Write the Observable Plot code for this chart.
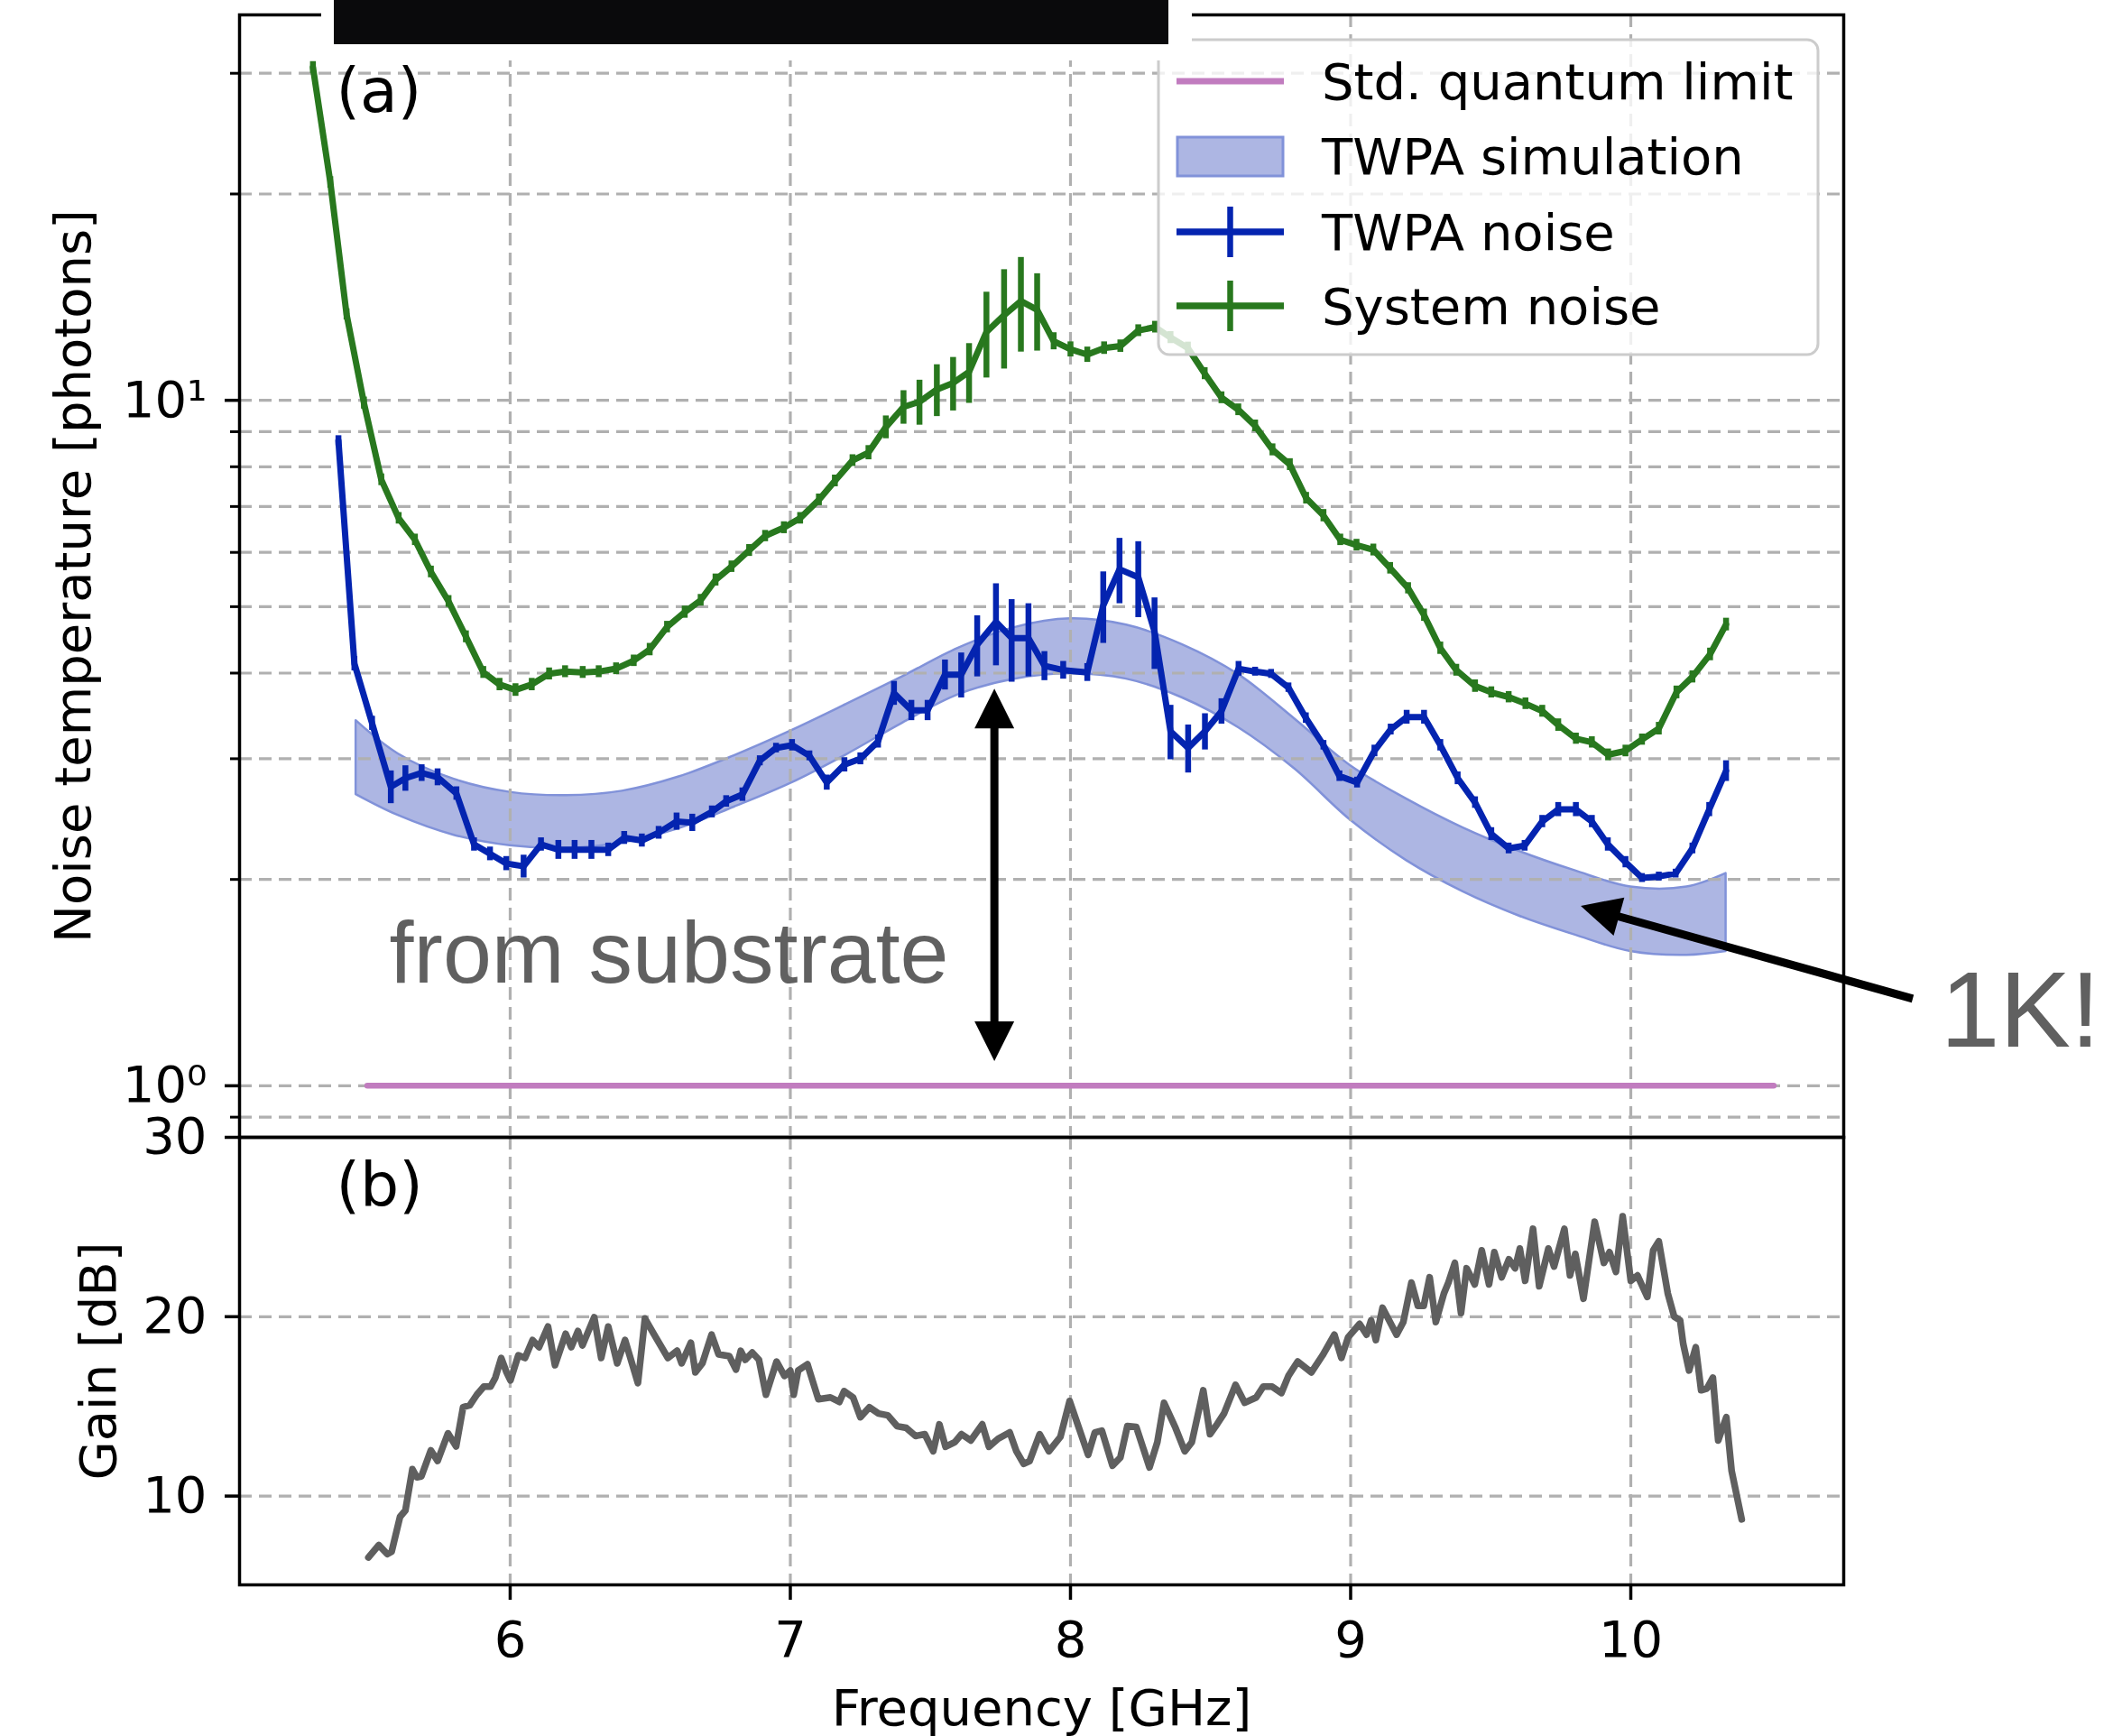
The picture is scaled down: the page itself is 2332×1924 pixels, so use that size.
<!DOCTYPE html>
<html><head><meta charset="utf-8">
<script src="https://cdn.jsdelivr.net/npm/d3@7"></script>
<script src="https://cdn.jsdelivr.net/npm/@observablehq/plot@0.6"></script>
<style>
html,body{margin:0;padding:0;background:#fff;}
#wrap{position:relative;width:2332px;height:1924px;overflow:hidden;background:#fff;}
#pa,#pb{position:absolute;left:0;width:2332px;}
#ov{position:absolute;left:0;top:0;}
</style></head><body>
<div id="wrap"><div id="pb" style="top:1200px"></div><div id="pa" style="top:0"></div><svg id="ov" width="2332" height="1924"></svg></div>
<script>
// ---------- axes / ticks ----------
const xDomain = [5.034, 10.76];
const noiseYDomain = [0.841, 36.5];
const gainYDomain = [5.05, 30];
const freqTicks = [6, 7, 8, 9, 10];
const noiseMajorTicks = [1, 10];
const noiseMajorLabels = ["10⁰", "10¹"];
const noiseMinorTicks = [0.9, 2, 3, 4, 5, 6, 7, 8, 9, 20, 30];
const gainTicks = [10, 20, 30];

// ---------- labels ----------
const xLabel = "Frequency [GHz]";
const yLabelA = "Noise temperature [photons]";
const yLabelB = "Gain [dB]";
const panelLabels = ["(a)", "(b)"];
const legendLabels = ["Std. quantum limit", "TWPA simulation", "TWPA noise", "System noise"];

// ---------- Std. quantum limit ----------
const sqlFreq = [5.49, 10.51];
const sqlValue = [1, 1];

// ---------- TWPA simulation band ----------
const simFreq = [5.45, 5.6, 5.8, 6.0, 6.2, 6.4, 6.6, 6.8, 7.0, 7.2, 7.4, 7.6, 7.8, 8.0, 8.2, 8.4, 8.6, 8.8, 9.0, 9.2, 9.4, 9.6, 9.8, 10.0, 10.2, 10.34];
const simHigh = [3.41, 3.05, 2.80, 2.68, 2.65, 2.69, 2.82, 3.03, 3.29, 3.60, 3.95, 4.35, 4.66, 4.80, 4.70, 4.40, 3.98, 3.43, 2.93, 2.62, 2.38, 2.20, 2.06, 1.95, 1.95, 2.04];
const simLow  = [2.66, 2.48, 2.32, 2.24, 2.22, 2.26, 2.37, 2.55, 2.76, 3.04, 3.38, 3.72, 3.92, 3.99, 3.92, 3.68, 3.33, 2.90, 2.44, 2.13, 1.92, 1.77, 1.66, 1.57, 1.55, 1.57];

// ---------- TWPA noise ----------
const twpaFreq = [5.387,5.444,5.507,5.574,5.626,5.684,5.741,5.808,5.871,5.928,5.986,6.048,6.11,6.172,6.23,6.29,6.35,6.407,6.47,6.53,6.594,6.65,6.72,6.771,6.829,6.891,6.949,7.006,7.068,7.13,7.193,7.25,7.313,7.37,7.432,7.49,7.552,7.61,7.667,7.734,7.79,7.85,7.907,7.974,8.06,8.117,8.175,8.242,8.30,8.357,8.42,8.48,8.539,8.60,8.659,8.716,8.778,8.84,8.903,8.96,9.023,9.085,9.143,9.2,9.262,9.32,9.382,9.444,9.502,9.564,9.621,9.684,9.741,9.804,9.861,9.918,9.981,10.04,10.10,10.16,10.22,10.28,10.34];
const twpaNoise = [8.73,4.13,3.38,2.73,2.81,2.86,2.82,2.67,2.25,2.18,2.11,2.09,2.25,2.21,2.21,2.21,2.21,2.30,2.28,2.34,2.43,2.42,2.51,2.60,2.66,2.98,3.11,3.14,3.03,2.77,2.94,3.00,3.18,3.74,3.53,3.53,3.98,3.98,4.40,4.75,4.50,4.50,4.10,4.04,4.01,5.02,5.67,5.52,4.60,3.29,3.11,3.29,3.52,4.06,4.02,3.99,3.81,3.44,3.14,2.83,2.77,3.08,3.31,3.45,3.45,3.14,2.81,2.59,2.33,2.22,2.24,2.43,2.53,2.53,2.43,2.25,2.12,2.01,2.02,2.04,2.22,2.53,2.88];
const twpaErr = [0.15,0.1,0.08,0.15,0.12,0.08,0.08,0.06,0.05,0.05,0.05,0.08,0.05,0.07,0.07,0.07,0.05,0.05,0.05,0.05,0.07,0.07,0.05,0.05,0.06,0.05,0.05,0.06,0.05,0.07,0.07,0.06,0.07,0.15,0.12,0.12,0.2,0.3,0.45,0.65,0.62,0.55,0.2,0.12,0.12,0.6,0.62,0.7,0.55,0.3,0.25,0.2,0.15,0.1,0.06,0.06,0.06,0.06,0.05,0.05,0.05,0.06,0.06,0.08,0.08,0.06,0.06,0.05,0.05,0.04,0.04,0.05,0.06,0.06,0.05,0.05,0.04,0.03,0.03,0.03,0.04,0.06,0.1];

// ---------- System noise ----------
const sysFreq = [5.296,5.358,5.416,5.478,5.540,5.602,5.660,5.717,5.780,5.842,5.904,5.962,6.019,6.077,6.139,6.196,6.259,6.316,6.378,6.441,6.498,6.560,6.623,6.680,6.733,6.79,6.853,6.91,6.977,7.035,7.102,7.159,7.222,7.279,7.341,7.404,7.461,7.523,7.581,7.638,7.70,7.763,7.823,7.881,7.940,8.0,8.06,8.12,8.178,8.242,8.302,8.357,8.419,8.479,8.539,8.599,8.659,8.721,8.783,8.841,8.903,8.963,9.021,9.081,9.141,9.205,9.262,9.32,9.377,9.444,9.502,9.564,9.624,9.684,9.741,9.804,9.861,9.919,9.981,10.04,10.10,10.163,10.22,10.283,10.34];
const sysNoise = [30.6,20.8,13.35,9.91,7.66,6.73,6.26,5.62,5.09,4.52,4.01,3.85,3.78,3.85,3.99,4.02,4.01,4.02,4.06,4.17,4.33,4.67,4.91,5.11,5.47,5.72,6.04,6.34,6.52,6.73,7.16,7.63,8.17,8.39,9.14,9.78,9.95,10.37,10.6,11.0,12.58,13.31,13.96,13.55,12.2,11.87,11.66,11.92,12.0,12.64,12.79,12.35,11.92,10.94,10.09,9.69,9.18,8.47,8.06,7.20,6.79,6.26,6.15,6.05,5.69,5.32,4.86,4.35,4.04,3.83,3.75,3.69,3.61,3.52,3.36,3.21,3.17,3.04,3.08,3.20,3.32,3.75,3.95,4.26,4.71];
const sysErr = [0.6,0.4,0.25,0.2,0.15,0.13,0.12,0.11,0.1,0.09,0.08,0.08,0.08,0.08,0.08,0.08,0.08,0.08,0.08,0.08,0.09,0.09,0.1,0.1,0.11,0.11,0.12,0.12,0.13,0.13,0.14,0.15,0.16,0.2,0.35,0.55,0.75,0.9,0.95,1.1,1.8,2.2,2.2,1.75,0.35,0.3,0.3,0.25,0.25,0.25,0.25,0.25,0.24,0.22,0.2,0.19,0.18,0.17,0.16,0.14,0.14,0.12,0.12,0.12,0.11,0.1,0.1,0.09,0.08,0.08,0.07,0.07,0.07,0.07,0.07,0.06,0.06,0.06,0.06,0.06,0.07,0.08,0.08,0.09,0.1];

// ---------- Gain ----------
const gainFreq = [5.494,5.531,5.561,5.577,5.607,5.626,5.651,5.667,5.683,5.717,5.741,5.778,5.807,5.832,5.856,5.881,5.906,5.93,5.947,5.968,5.987,6.001,6.029,6.053,6.08,6.103,6.135,6.16,6.198,6.218,6.242,6.258,6.30,6.325,6.35,6.382,6.41,6.456,6.481,6.514,6.563,6.596,6.612,6.645,6.661,6.686,6.719,6.744,6.782,6.806,6.823,6.839,6.864,6.888,6.913,6.951,6.979,7.0,7.012,7.028,7.061,7.10,7.143,7.175,7.192,7.224,7.25,7.282,7.315,7.348,7.381,7.414,7.447,7.48,7.51,7.532,7.554,7.587,7.611,7.644,7.685,7.709,7.742,7.783,7.807,7.833,7.854,7.89,7.923,7.964,7.997,8.03,8.063,8.087,8.112,8.15,8.178,8.203,8.235,8.282,8.31,8.334,8.375,8.408,8.433,8.474,8.498,8.523,8.548,8.589,8.622,8.663,8.688,8.72,8.753,8.778,8.811,8.86,8.90,8.942,8.967,8.991,9.032,9.057,9.073,9.09,9.114,9.164,9.188,9.217,9.24,9.261,9.282,9.304,9.333,9.349,9.372,9.394,9.414,9.443,9.468,9.494,9.513,9.539,9.565,9.587,9.604,9.623,9.651,9.673,9.706,9.726,9.763,9.783,9.802,9.831,9.871,9.904,9.924,9.947,9.971,10.0,10.024,10.059,10.08,10.1,10.132,10.155,10.176,10.187,10.208,10.232,10.251,10.272,10.293,10.312,10.341,10.36,10.396];
const gainDb = [6.58,7.27,6.77,6.9,8.85,9.2,11.5,11.05,11.1,12.55,11.96,13.5,12.77,14.96,15.07,15.65,16.1,16.1,16.6,17.7,16.9,16.45,17.85,17.7,18.7,18.3,19.45,17.3,19.05,18.3,19.2,18.4,19.97,17.7,19.45,17.4,18.7,16.3,19.9,19.0,17.7,18.1,17.4,18.55,16.9,17.4,19.0,17.9,17.8,17.05,18.1,17.6,18.0,17.6,15.65,17.5,16.7,17.0,15.65,17.0,17.35,15.4,15.5,15.25,15.85,15.5,14.4,14.95,14.6,14.5,13.9,13.8,13.35,13.45,12.5,14.0,12.75,13.0,13.45,13.1,14.0,12.75,13.2,13.55,12.5,11.8,11.95,13.45,12.5,13.3,15.3,13.8,12.3,13.55,13.65,11.7,12.15,13.9,13.85,11.6,13.0,15.2,13.8,12.5,13.0,15.9,13.45,14.0,14.6,16.2,15.2,15.5,16.1,16.1,15.75,16.7,17.5,16.9,17.85,19.0,17.7,18.85,19.6,19.0,19.8,18.7,20.5,19.0,19.7,21.9,20.6,20.6,22.2,19.7,21.3,21.9,23.0,20.2,22.7,21.8,23.7,21.8,23.6,22.2,23.2,22.7,23.8,22.0,24.9,21.7,23.8,22.8,24.9,22.3,23.5,21.0,25.3,23.0,23.6,22.5,25.6,22.0,22.3,21.1,23.7,24.2,21.3,20.0,19.8,18.5,17.0,18.3,15.9,16.0,16.6,13.1,14.4,11.4,8.7];

// ---------- annotations (data coordinates of panel a) ----------
const substrateText = {x: 5.569, y: 1.413, label: "from substrate"};
const oneKText = {x: 11.105, y: 1.139, label: "1K!"};
const substrateArrow = {x: 7.73, yTop: 3.79, yBottom: 1.085};
const oneKArrow = {x1: 11.008, y1: 1.338, x2: 9.823, y2: 1.827};

// ---------- colours ----------
const C = {sql: "#c17cbf", simFill: "#adb6e3", simEdge: "#8192d9", twpa: "#0424b0", sys: "#28781e", gain: "#5f5f5f", grid: "#b0b0b0", annot: "#606060"};

// ---------- tables ----------
const sql = sqlFreq.map((x, i) => ({x, y: sqlValue[i]}));
const sim = simFreq.map((x, i) => ({x, lo: simLow[i], hi: simHigh[i]}));
const twpa = twpaFreq.map((x, i) => ({x, y: twpaNoise[i], e: twpaErr[i]}));
const sys = sysFreq.map((x, i) => ({x, y: sysNoise[i], e: sysErr[i]}));
const gain = gainFreq.map((x, i) => ({x, y: gainDb[i]}));

const FONT = "DejaVu Sans, sans-serif";
const ANFONT = "Liberation Sans, Arial, Helvetica, sans-serif";
const common = {
  width: 2332, marginLeft: 265, marginRight: 289,
  style: {background: "transparent", overflow: "visible", fontFamily: FONT, fontSize: "56px", color: "black", maxWidth: "none"}
};
const grid = {stroke: C.grid, strokeOpacity: 1, strokeWidth: 3.2, strokeDasharray: "14,8"};
const LW = 7;

const pa = Plot.plot({
  ...common, height: 1262, marginTop: 16, marginBottom: 2,
  x: {domain: xDomain, axis: null},
  y: {type: "log", domain: noiseYDomain},
  marks: [
    Plot.areaY(sim, {x: "x", y1: "lo", y2: "hi", fill: C.simFill, stroke: C.simEdge, strokeWidth: 2.5, curve: "catmull-rom"}),
    Plot.gridX({ticks: freqTicks, ...grid}),
    Plot.gridY({ticks: noiseMajorTicks.concat(noiseMinorTicks), ...grid}),
    Plot.axisY({ticks: noiseMajorTicks, tickFormat: d => noiseMajorLabels[noiseMajorTicks.indexOf(d)], tickSize: 16, tickPadding: 20, strokeWidth: 3.5, label: null, fontSize: 56}),
    Plot.axisY({ticks: noiseMinorTicks, tickFormat: () => "", tickSize: 10, strokeWidth: 3, label: null}),
    Plot.lineY(sql, {x: "x", y: "y", stroke: C.sql, strokeWidth: 6.5}),
    Plot.ruleX(twpa, {x: "x", y1: d => d.y - d.e, y2: d => d.y + d.e, stroke: C.twpa, strokeWidth: 6.5}),
    Plot.line(twpa, {x: "x", y: "y", stroke: C.twpa, strokeWidth: LW, strokeLinejoin: "round"}),
    Plot.ruleX(sys, {x: "x", y1: d => d.y - d.e, y2: d => d.y + d.e, stroke: C.sys, strokeWidth: 6.5}),
    Plot.line(sys, {x: "x", y: "y", stroke: C.sys, strokeWidth: LW, strokeLinejoin: "round"}),
    Plot.text([panelLabels[0]], {text: d => d, frameAnchor: "top-left", dx: 107, dy: 107, textAnchor: "start", lineAnchor: "bottom", fontSize: 68}),
    Plot.text([yLabelA], {text: d => d, frameAnchor: "left", dx: -166, rotate: -90, textAnchor: "middle", lineAnchor: "bottom", fontSize: 56}),
    Plot.text([substrateText, oneKText], {x: "x", y: "y", text: "label", textAnchor: "start", lineAnchor: "bottom", fontFamily: ANFONT, fontSize: d => d === oneKText ? 118 : 97, fill: C.annot}),
    Plot.frame({stroke: "black", strokeWidth: 3.5})
  ]
});
document.getElementById("pa").appendChild(pa);

const pb = Plot.plot({
  ...common, height: 724, marginTop: 60, marginBottom: 168,
  x: {domain: xDomain},
  y: {domain: gainYDomain},
  marks: [
    Plot.gridX({ticks: freqTicks, ...grid}),
    Plot.gridY({ticks: [10, 20], ...grid}),
    Plot.axisY({ticks: gainTicks, tickSize: 16, tickPadding: 20, strokeWidth: 3.5, label: null, tickFormat: d => String(d)}),
    Plot.axisX({ticks: freqTicks, tickSize: 17, tickPadding: 23, strokeWidth: 3.5, label: null, tickFormat: d => String(d)}),
    Plot.line(gain, {x: "x", y: "y", stroke: C.gain, strokeWidth: 7.5, strokeLinejoin: "round"}),
    Plot.text([panelLabels[1]], {text: d => d, frameAnchor: "top-left", dx: 107, dy: 76, textAnchor: "start", lineAnchor: "bottom", fontSize: 68}),
    Plot.text([yLabelB], {text: d => d, frameAnchor: "left", dx: -138, rotate: -90, textAnchor: "middle", lineAnchor: "bottom", fontSize: 56}),
    Plot.text([xLabel], {text: d => d, frameAnchor: "bottom", dy: 155, textAnchor: "middle", lineAnchor: "bottom", fontSize: 56}),
    Plot.frame({stroke: "black", strokeWidth: 3.5})
  ]
});
document.getElementById("pb").appendChild(pb);

// ---------- overlay: arrows, legend, redaction ----------
const ov = d3.select("#ov");
const sxo = pa.scale("x"), syo = pa.scale("y");
const sx = d3.scaleLinear(sxo.domain, sxo.range);
const sy = d3.scaleLog(syo.domain, syo.range);

function arrowHead(g, tipX, tipY, ux, uy, len, wid) {
  const bx = tipX - ux * len, by = tipY - uy * len;
  const px = -uy * wid / 2, py = ux * wid / 2;
  g.append("path").attr("d", `M${tipX},${tipY}L${bx + px},${by + py}L${bx - px},${by - py}Z`).attr("fill", "black");
}
function arrow(p1, p2, both) {
  const g = ov.append("g");
  const dx = p2[0] - p1[0], dy = p2[1] - p1[1], L = Math.hypot(dx, dy);
  const ux = dx / L, uy = dy / L, len = 44, wid = 44;
  const s = both ? [p1[0] + ux * (len - 4), p1[1] + uy * (len - 4)] : p1;
  const e = [p2[0] - ux * (len - 4), p2[1] - uy * (len - 4)];
  g.append("line").attr("x1", s[0]).attr("y1", s[1]).attr("x2", e[0]).attr("y2", e[1]).attr("stroke", "black").attr("stroke-width", 9);
  arrowHead(g, p2[0], p2[1], ux, uy, len, wid);
  if (both) arrowHead(g, p1[0], p1[1], -ux, -uy, len, wid);
}
arrow([sx(substrateArrow.x), sy(substrateArrow.yTop)], [sx(substrateArrow.x), sy(substrateArrow.yBottom)], true);
arrow([sx(oneKArrow.x1), sy(oneKArrow.y1)], [sx(oneKArrow.x2), sy(oneKArrow.y2)], false);

// legend
const lg = ov.append("g").attr("font-family", FONT).attr("font-size", 56);
lg.append("rect").attr("x", 1284).attr("y", 44).attr("width", 731).attr("height", 349).attr("rx", 12)
  .attr("fill", "white").attr("fill-opacity", 0.8).attr("stroke", "#cccccc").attr("stroke-width", 3);
const rowY = [90, 173, 257, 339];
const hx0 = 1304, hx1 = 1423, hxm = (hx0 + hx1) / 2;
lg.append("line").attr("x1", hx0).attr("x2", hx1).attr("y1", rowY[0]).attr("y2", rowY[0]).attr("stroke", C.sql).attr("stroke-width", 7);
lg.append("rect").attr("x", 1305).attr("y", rowY[1] - 21).attr("width", 117).attr("height", 43).attr("fill", C.simFill).attr("stroke", C.simEdge).attr("stroke-width", 3);
[[rowY[2], C.twpa], [rowY[3], C.sys]].forEach(([y, c]) => {
  lg.append("line").attr("x1", hx0).attr("x2", hx1).attr("y1", y).attr("y2", y).attr("stroke", c).attr("stroke-width", 7.5);
  lg.append("line").attr("x1", hxm).attr("x2", hxm).attr("y1", y - 28).attr("y2", y + 28).attr("stroke", c).attr("stroke-width", 6.5);
});
legendLabels.forEach((t, i) => {
  lg.append("text").attr("x", 1465).attr("y", rowY[i] + 20).attr("fill", "black").text(t);
});

// redaction bar at top
ov.append("rect").attr("x", 356).attr("y", 0).attr("width", 965).attr("height", 67).attr("fill", "white");
ov.append("rect").attr("x", 370).attr("y", 0).attr("width", 925).attr("height", 49).attr("fill", "#0a0a0c");
</script></body></html>
